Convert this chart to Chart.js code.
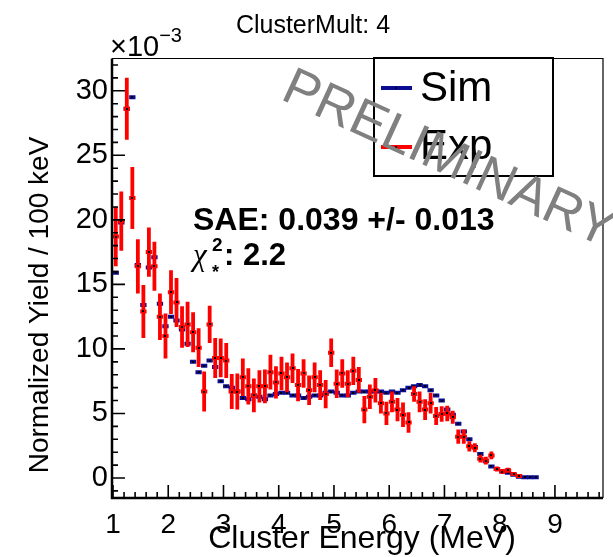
<!DOCTYPE html>
<html>
<head>
<meta charset="utf-8">
<script src="https://cdn.jsdelivr.net/npm/chart.js@4/dist/chart.umd.min.js"></script>
<style>
  html, body { margin: 0; padding: 0; background: #ffffff; }
  #wrap { width: 613px; height: 557px; position: relative; }
</style>
</head>
<body>
<div id="wrap"><canvas id="chart" width="613" height="557"></canvas></div>
<script>
// Cluster energy spectrum, cluster multiplicity 4 (yields in units of 1e-3 per 100 keV)

const simEnergy = [
  1.05, 1.15, 1.25, 1.35, 1.45, 1.55, 1.65, 1.75, 1.85, 1.95,
  2.05, 2.15, 2.25, 2.35, 2.45, 2.55, 2.65, 2.75, 2.85, 2.95,
  3.05, 3.15, 3.25, 3.35, 3.45, 3.55, 3.65, 3.75, 3.85, 3.95,
  4.05, 4.15, 4.25, 4.35, 4.45, 4.55, 4.65, 4.75, 4.85, 4.95,
  5.05, 5.15, 5.25, 5.35, 5.45, 5.55, 5.65, 5.75, 5.85, 5.95,
  6.05, 6.15, 6.25, 6.35, 6.45, 6.55, 6.65, 6.75, 6.85, 6.95,
  7.05, 7.15, 7.25, 7.35, 7.45, 7.55, 7.65, 7.75, 7.85, 7.95,
  8.05, 8.15, 8.25, 8.35, 8.45, 8.55, 8.65
];
const simYield = [
  15.9, 19.8, 28.6, 29.5, 16.5, 13.4, 16.3, 17.1, 13.5, 11.75,
  12.5, 12.2, 11.5, 10.4, 9.0, 8.2, 8.7, 9.1, 8.6, 7.5,
  7.1, 7.0, 6.7, 6.2, 6.1, 6.4, 6.3, 6.1, 6.4, 6.5,
  6.6, 6.6, 6.4, 6.4, 6.2, 6.3, 6.4, 6.4, 6.6, 6.7,
  6.6, 6.4, 6.4, 6.6, 6.7, 6.7, 6.7, 6.7, 6.7, 6.6,
  6.7, 6.6, 6.8, 7.0, 7.1, 7.2, 7.1, 6.8, 6.4, 6.0,
  5.3, 4.9, 4.2, 3.6, 3.0, 2.4, 1.85, 1.3, 0.9, 0.7,
  0.5, 0.4, 0.25, 0.1, 0.05, 0.05, 0.05
];

const expEnergy = [
  1.05, 1.15, 1.25, 1.35, 1.45, 1.55, 1.65, 1.75, 1.85, 1.95,
  2.05, 2.15, 2.25, 2.35, 2.45, 2.55, 2.65, 2.75, 2.85, 2.95,
  3.05, 3.15, 3.25, 3.35, 3.45, 3.55, 3.65, 3.75, 3.85, 3.95,
  4.05, 4.15, 4.25, 4.35, 4.45, 4.55, 4.65, 4.75, 4.85, 4.95,
  5.05, 5.15, 5.25, 5.35, 5.45, 5.55, 5.65, 5.75, 5.85, 5.95,
  6.05, 6.15, 6.25, 6.35, 6.45, 6.55, 6.65, 6.75, 6.85, 6.95,
  7.05, 7.15, 7.25, 7.35, 7.45, 7.55, 7.65, 7.75, 7.85, 7.95,
  8.05, 8.15, 8.25, 8.35
];
const expYield = [
  18.7, 19.9, 28.6, 21.7, 16.4, 12.9, 17.5, 16.4, 12.5, 11.0,
  14.4, 13.6, 11.7, 11.9, 11.3, 10.1, 6.7, 11.9, 9.3, 9.3,
  9.1, 6.7, 6.7, 7.8, 7.1, 6.4, 7.1, 7.1, 8.2, 7.4,
  8.1, 7.8, 8.5, 7.2, 8.1, 6.8, 7.8, 7.2, 6.5, 9.7,
  7.3, 8.1, 7.3, 8.3, 7.6, 5.3, 6.3, 6.8, 5.8, 5.0,
  5.9, 5.3, 4.9, 4.3, 6.5, 5.9, 5.3, 5.8, 4.8, 4.95,
  5.0, 4.7, 3.2, 3.2, 2.45, 2.35, 1.5, 1.35, 1.75, 0.7,
  0.5, 0.6, 0.3, 0.15
];
const expError = [
  2.3, 2.3, 2.4, 2.4, 2.1, 2.05, 1.9, 1.9, 1.8, 1.75,
  1.7, 1.9, 1.6, 1.75, 1.55, 1.5, 1.55, 1.45, 1.55, 1.5,
  1.35, 1.35, 1.4, 1.45, 1.4, 1.3, 1.25, 1.3, 1.35, 1.25,
  1.3, 1.15, 1.15, 1.25, 1.1, 1.15, 1.15, 1.15, 1.1, 1.1,
  1.1, 1.1, 1.05, 1.1, 1.0, 1.05, 0.95, 0.95, 0.8, 0.9,
  0.8, 0.9, 0.95, 0.8, 0.6, 0.8, 0.8, 0.8, 0.7, 0.6,
  0.6, 0.5, 0.55, 0.55, 0.4, 0.35, 0.3, 0.3, 0.3, 0.2,
  0.2, 0.2, 0.15, 0.1
];

const xTickValues = [1, 2, 3, 4, 5, 6, 7, 8, 9];
const yTickValues = [0, 5, 10, 15, 20, 25, 30];

const titleText = 'ClusterMult: 4';
const xTitleText = 'Cluster Energy (MeV)';
const yTitleText = 'Normalized Yield / 100 keV';
const saeText = 'SAE: 0.039 +/- 0.013';
const chi2Value = '2.2';
const watermarkText = 'PRELIMINARY';

const BIN_WIDTH = 0.1;
const SANS = "'Liberation Sans', Arial, Helvetica, sans-serif";
const SIM_COLOR = '#0b0b94';
const EXP_COLOR = '#ff0000';

function halfBinPx(chart) {
  const s = chart.scales && chart.scales.x;
  if (!s) return 2.75;
  return Math.abs(s.getPixelForValue(BIN_WIDTH) - s.getPixelForValue(0)) / 2;
}

// Vertical error bars under the experimental markers, small black dots on every marker
const errorBarPlugin = {
  id: 'errorBars',
  beforeDatasetDraw(chart, args) {
    const ds = chart.data.datasets[args.index];
    if (!ds.errors) return;
    const { ctx, chartArea } = chart;
    const y = chart.scales.y;
    const meta = args.meta;
    ctx.save();
    ctx.beginPath();
    ctx.rect(chartArea.left, chartArea.top, chartArea.right - chartArea.left, chartArea.bottom - chartArea.top);
    ctx.clip();
    ctx.strokeStyle = EXP_COLOR;
    ctx.lineWidth = 3.8;
    meta.data.forEach((pt, i) => {
      const v = ds.data[i].y, e = ds.errors[i];
      ctx.beginPath();
      ctx.moveTo(pt.x, y.getPixelForValue(v + e));
      ctx.lineTo(pt.x, y.getPixelForValue(v - e));
      ctx.stroke();
    });
    ctx.restore();
  },
  afterDatasetDraw(chart, args) {
    const { ctx } = chart;
    ctx.save();
    ctx.fillStyle = '#000000';
    args.meta.data.forEach(pt => {
      ctx.fillRect(Math.round(pt.x) - 1, Math.round(pt.y) - 1, 2, 2);
    });
    ctx.restore();
  }
};

// Frame, inward ticks, axis titles, legend, annotations
const decorPlugin = {
  id: 'decor',
  afterDatasetsDraw(chart) {
    const { ctx, chartArea: a } = chart;
    const xs = chart.scales.x, ys = chart.scales.y;
    ctx.save();
    ctx.strokeStyle = '#000000';

    // frame
    ctx.lineWidth = 1.2;
    ctx.beginPath();
    ctx.moveTo(a.left, a.top); ctx.lineTo(a.right, a.top); ctx.lineTo(a.right, a.bottom);
    ctx.stroke();
    ctx.lineWidth = 2.5;
    ctx.beginPath();
    ctx.moveTo(a.left, a.top); ctx.lineTo(a.left, a.bottom); ctx.lineTo(a.right, a.bottom);
    ctx.stroke();

    // x ticks: majors every 1 MeV, minors every 0.2 MeV
    ctx.lineWidth = 1.6;
    ctx.beginPath();
    for (let k = 0; k <= 50; k++) {
      const v = 1 + k * 0.2;
      if (v < xs.min || v > xs.max) continue;
      const px = xs.getPixelForValue(v);
      const major = k % 5 === 0;
      ctx.moveTo(px, a.bottom);
      ctx.lineTo(px, a.bottom - (major ? 13 : 6));
    }
    ctx.stroke();

    // y ticks: majors every 5, minors every 1 (x 1e-3)
    ctx.beginPath();
    for (let v = Math.ceil(ys.min); v <= ys.max; v++) {
      const py = ys.getPixelForValue(v);
      const major = v % 5 === 0;
      ctx.moveTo(a.left, py);
      ctx.lineTo(a.left + (major ? 13 : 6), py);
    }
    ctx.stroke();

    // title
    ctx.fillStyle = '#000000';
    ctx.textBaseline = 'alphabetic';
    ctx.textAlign = 'center';
    ctx.font = '25px ' + SANS;
    ctx.fillText(titleText, 313, 33);

    // exponent label
    ctx.textAlign = 'left';
    ctx.font = '29px ' + SANS;
    ctx.fillText('\u00d710', 110, 56);
    const w10 = ctx.measureText('\u00d710').width;
    ctx.font = '20px ' + SANS;
    ctx.fillText('\u22123', 110 + w10, 42);

    // axis titles
    ctx.font = '32px ' + SANS;
    ctx.textAlign = 'center';
    ctx.fillText(xTitleText, 362, 548);
    ctx.save();
    ctx.translate(48, 305);
    ctx.rotate(-Math.PI / 2);
    ctx.font = '28px ' + SANS;
    ctx.fillText(yTitleText, 0, 0);
    ctx.restore();

    // fit annotations
    ctx.textAlign = 'left';
    ctx.font = 'bold 32px ' + SANS;
    ctx.fillText(saeText, 193, 230);
    ctx.font = 'italic 31px "Liberation Serif", "Times New Roman", serif';
    ctx.fillText('\u03c7', 193, 265);
    ctx.font = 'bold 19px ' + SANS;
    ctx.fillText('2', 212, 251);
    ctx.font = 'bold 18px ' + SANS;
    ctx.fillText('*', 212, 278);
    ctx.font = 'bold 31px ' + SANS;
    ctx.fillText(': ' + chi2Value, 224, 265);

    // legend
    const lg = { x0: 374, y0: 58, x1: 553, y1: 176 };
    ctx.fillStyle = '#ffffff';
    ctx.fillRect(lg.x0, lg.y0, lg.x1 - lg.x0, lg.y1 - lg.y0);
    ctx.lineWidth = 2;
    ctx.strokeRect(lg.x0, lg.y0, lg.x1 - lg.x0, lg.y1 - lg.y0);
    const entries = [
      { ds: chart.data.datasets[1], y: 88, base: 101 },
      { ds: chart.data.datasets[0], y: 147, base: 159 }
    ];
    entries.forEach(en => {
      ctx.strokeStyle = en.ds.borderColor;
      ctx.lineWidth = 4;
      ctx.beginPath();
      ctx.moveTo(381, en.y); ctx.lineTo(412, en.y);
      ctx.stroke();
      ctx.fillStyle = '#000000';
      ctx.fillRect(395, en.y - 1, 2, 2);
      ctx.font = '42px ' + SANS;
      ctx.fillText(en.ds.label, 420, en.base);
    });

    // watermark
    ctx.save();
    ctx.translate(450, 156);
    ctx.rotate(24.6 * Math.PI / 180);
    ctx.fillStyle = '#808080';
    ctx.font = '53px ' + SANS;
    ctx.textAlign = 'center';
    ctx.fillText(watermarkText, 0, 19);
    ctx.restore();

    ctx.restore();
  }
};

const chart = new Chart(document.getElementById('chart'), {
  type: 'scatter',
  data: {
    datasets: [
      {
        label: 'Exp',
        data: expEnergy.map((x, i) => ({ x, y: expYield[i] })),
        errors: expError,
        borderColor: EXP_COLOR,
        backgroundColor: EXP_COLOR,
        pointStyle: 'line',
        pointRadius: ctx => halfBinPx(ctx.chart) + 0.4,
        pointBorderWidth: 4,
        showLine: false,
        order: 0
      },
      {
        label: 'Sim',
        data: simEnergy.map((x, i) => ({ x, y: simYield[i] })),
        borderColor: SIM_COLOR,
        backgroundColor: SIM_COLOR,
        pointStyle: 'line',
        pointRadius: ctx => halfBinPx(ctx.chart) + 0.4,
        pointBorderWidth: 4,
        showLine: false,
        order: 1
      }
    ]
  },
  options: {
    responsive: false,
    animation: false,
    devicePixelRatio: 1,
    layout: { padding: { top: 58.5, right: 10, bottom: 0, left: 0 } },
    plugins: { legend: { display: false }, tooltip: { enabled: false }, title: { display: false } },
    scales: {
      x: {
        type: 'linear',
        min: 0.982,
        max: 9.87,
        grid: { display: false },
        border: { display: false },
        afterFit: s => { s.height = 59; },
        afterBuildTicks: s => { s.ticks = xTickValues.map(v => ({ value: v })); },
        ticks: {
          color: '#000000',
          font: { family: SANS, size: 28 },
          padding: 2,
          maxRotation: 0,
          callback: v => String(v)
        }
      },
      y: {
        type: 'linear',
        min: -1.55,
        max: 32.5,
        grid: { display: false },
        border: { display: false },
        afterFit: s => { s.width = 112; },
        afterBuildTicks: s => { s.ticks = yTickValues.map(v => ({ value: v })); },
        ticks: {
          color: '#000000',
          font: { family: SANS, size: 29 },
          padding: -4,
          callback: v => String(v)
        }
      }
    }
  },
  plugins: [errorBarPlugin, decorPlugin]
});
</script>
</body>
</html>
